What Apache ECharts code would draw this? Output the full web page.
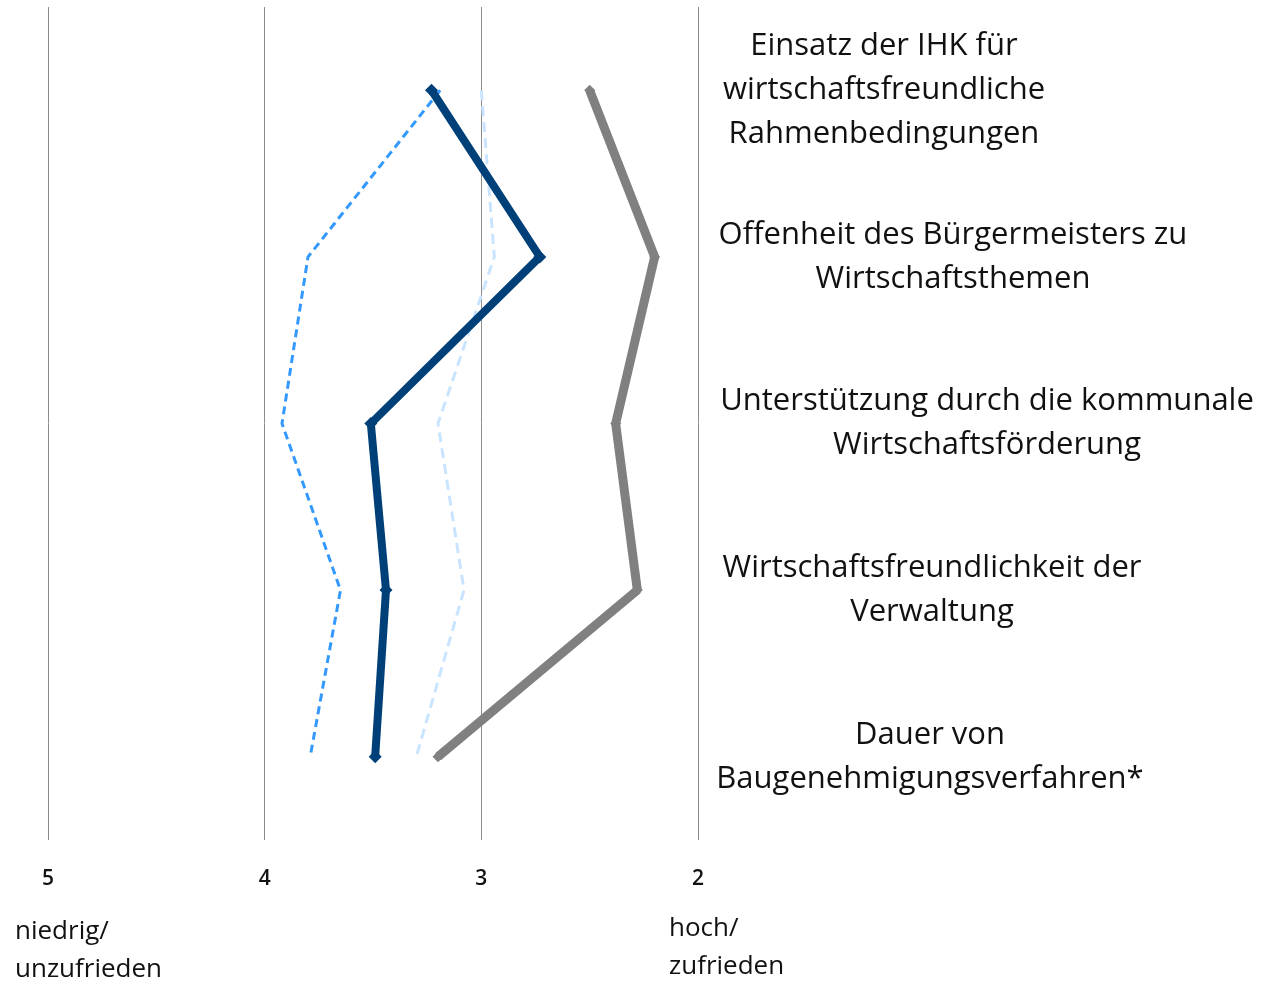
<!DOCTYPE html>
<html>
<head>
<meta charset="utf-8">
<script src="https://cdn.jsdelivr.net/npm/echarts@6/dist/echarts.min.js"></script>
<style>
  html, body { margin: 0; padding: 0; background: #fff; }
  #main { width: 1270px; height: 983px; }
</style>
</head>
<body>
<div id="main"></div>
<script>
// Kategorien (von oben nach unten)
var categories = [
    'Einsatz der IHK für\nwirtschaftsfreundliche\nRahmenbedingungen',
    'Offenheit des Bürgermeisters zu\nWirtschaftsthemen',
    'Unterstützung durch die kommunale\nWirtschaftsförderung',
    'Wirtschaftsfreundlichkeit der\nVerwaltung',
    'Dauer von\nBaugenehmigungsverfahren*'
];
// Schulnoten je Reihe
var darkBlue  = [3.23, 2.73, 3.51, 3.44, 3.49];
var grey      = [2.50, 2.20, 2.38, 2.28, 3.20];
var blueDash  = [3.19, 3.80, 3.92, 3.65, 3.79];
var lightDash = [3.00, 2.94, 3.20, 3.08, 3.30];
var xTicks = [5, 4, 3, 2];

// horizontale Mitte der Beschriftungen
var labelCenters = [884, 953, 987, 932, 930];

var myChart = echarts.init(document.getElementById('main'));

var option = {
    animation: false,
    grid: { left: 48, right: 572, top: 7, bottom: 143 },
    xAxis: {
        type: 'value',
        inverse: true,
        min: 2,
        max: 5,
        interval: 1,
        axisLine: { show: false },
        axisTick: { show: false },
        axisLabel: {
            margin: 29,
            color: '#111',
            fontSize: 21,
            fontWeight: 600,
            fontFamily: 'Open Sans',
            formatter: function (v) { return xTicks.indexOf(v) >= 0 ? String(v) : ''; }
        },
        splitLine: { lineStyle: { color: '#8c8c8c', width: 1 } }
    },
    yAxis: {
        type: 'category',
        inverse: true,
        data: categories,
        boundaryGap: true,
        axisLine: { show: false },
        axisTick: { show: false },
        axisLabel: { show: false },
        splitLine: { show: false }
    },
    series: [
        {
            name: 'lightDash', type: 'line', data: lightDash,
            showSymbol: false,
            lineStyle: { color: '#c9e4ff', width: 3, type: [10, 6] }
        },
        {
            name: 'blueDash', type: 'line', data: blueDash,
            showSymbol: false,
            lineStyle: { color: '#3399ff', width: 3, type: [8, 5] }
        },
        {
            name: 'grey', type: 'line', data: grey,
            symbol: 'diamond', symbolSize: 11,
            itemStyle: { color: '#808080' },
            lineStyle: { color: '#808080', width: 9 }
        },
        {
            name: 'darkBlue', type: 'line', data: darkBlue,
            symbol: 'diamond', symbolSize: 13,
            itemStyle: { color: '#004079' },
            lineStyle: { color: '#004079', width: 8 }
        }
    ].map(function (s) {
        // Linienreihe: x = Wert, y = Kategorie
        s.data = s.data.map(function (v, i) { return [v, categories[i]]; });
        return s;
    })
};
myChart.setOption(option);

// Kategorie-Beschriftungen rechts neben dem Diagramm
var texts = categories.map(function (c, i) {
    var y = myChart.convertToPixel({ yAxisIndex: 0 }, c);
    return {
        type: 'text',
        x: labelCenters[i],
        y: y,
        style: {
            text: c,
            align: 'center',
            verticalAlign: 'middle',
            font: '31px "Open Sans"',
            lineHeight: 44,
            fill: '#111'
        }
    };
});
texts.push({
    type: 'text', left: 15, top: 913,
    style: { text: 'niedrig/\nunzufrieden', font: '26px "Open Sans"', lineHeight: 38, fill: '#111' }
});
texts.push({
    type: 'text', left: 669, top: 910,
    style: { text: 'hoch/\nzufrieden', font: '26px "Open Sans"', lineHeight: 38, fill: '#111' }
});
myChart.setOption({ graphic: texts });
</script>
</body>
</html>
